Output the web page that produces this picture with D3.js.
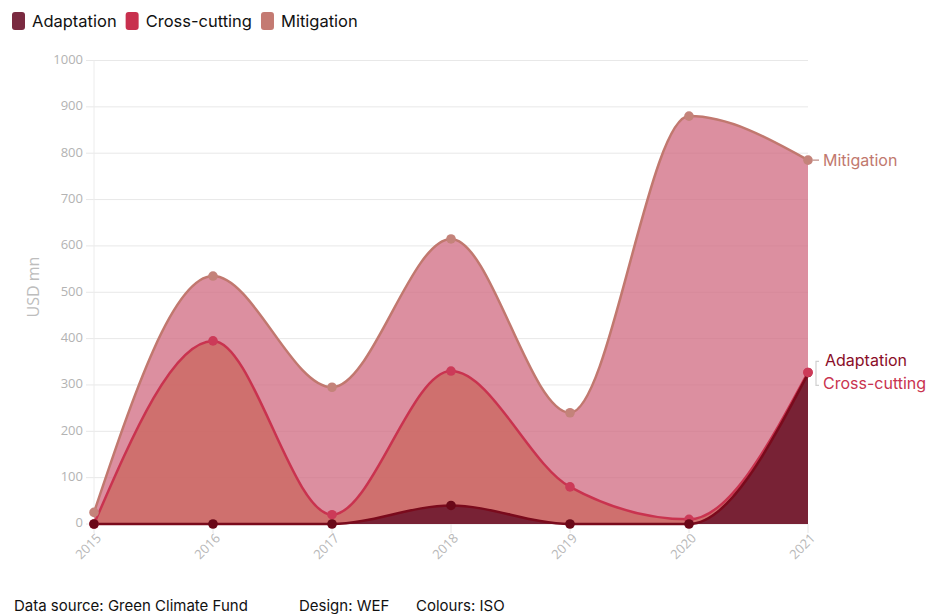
<!DOCTYPE html>
<html>
<head>
<meta charset="utf-8">
<script src="https://cdn.jsdelivr.net/npm/d3@7"></script>
<style>
  html, body { margin: 0; padding: 0; background: #fff; }
  svg { display: block; font-family: Inter, "Noto Sans", sans-serif; }
</style>
</head>
<body>
<div id="chart"></div>
<script>
// Daten
const years = [2015, 2016, 2017, 2018, 2019, 2020, 2021];
const adaptation = [0, 0, 0, 40, 0, 0, 324];
const crossCutting = [0, 395, 20, 330, 80, 10, 327];
const mitigation = [25, 535, 295, 615, 240, 880, 785];
const yTickValues = [0, 100, 200, 300, 400, 500, 600, 700, 800, 900, 1000];
const seriesNames = ['Adaptation', 'Cross-cutting', 'Mitigation'];

const W = 929, H = 614;
const margin = { top: 60.5, right: 121, bottom: 90, left: 94 };

const svg = d3.select('#chart').append('svg')
  .attr('width', W).attr('height', H);

const x = d3.scalePoint().domain(years).range([margin.left, W - margin.right]);
const y = d3.scaleLinear().domain([0, 1000]).range([H - margin.bottom, margin.top]);

// Farben
const style = {
  'Mitigation':    { fill: '#d06a80', line: '#c1786f', dot: '#c4837a', label: '#c1786e' },
  'Cross-cutting': { fill: '#cb665d', line: '#c9334f', dot: '#cc3a58', label: '#c9334f' },
  'Adaptation':    { fill: '#5b0823', line: '#7a0a1c', dot: '#6a0818', label: '#8a0d28' },
};
const legendColor = { 'Adaptation': '#7a2a40', 'Cross-cutting': '#c8304e', 'Mitigation': '#c47a72' };

// ---- Grid ----
svg.append('g').attr('class', 'grid-y')
  .selectAll('line').data(yTickValues).join('line')
  .attr('x1', margin.left - 8).attr('x2', W - margin.right)
  .attr('y1', d => y(d)).attr('y2', d => y(d))
  .attr('stroke', '#e8e8e8').attr('stroke-width', 1);

svg.append('line')
  .attr('x1', margin.left).attr('x2', margin.left)
  .attr('y1', margin.top).attr('y2', y(0))
  .attr('stroke', '#ececec');

// x tick marks
svg.append('g').selectAll('line').data(years).join('line')
  .attr('x1', d => x(d)).attr('x2', d => x(d))
  .attr('y1', y(0)).attr('y2', y(0) + 9)
  .attr('stroke', '#e6e6e6');

// ---- Y-Achse Labels ----
svg.append('g').selectAll('text').data(yTickValues).join('text')
  .attr('x', margin.left - 11).attr('y', d => y(d))
  .attr('text-anchor', 'end').attr('dominant-baseline', 'middle')
  .attr('font-family', '"Open Sans", sans-serif')
  .attr('font-size', 13).attr('fill', '#b3b3b3')
  .text(d => d);

svg.append('text')
  .attr('transform', `translate(39, 287) rotate(-90)`)
  .attr('text-anchor', 'middle')
  .attr('font-family', '"Open Sans", sans-serif')
  .attr('font-size', 16).attr('fill', '#bdbdbd')
  .text('USD mn');

// ---- X-Achse Labels (gedreht) ----
svg.append('g').selectAll('text').data(years).join('text')
  .attr('transform', d => `translate(${x(d) + 8}, ${y(0) + 15}) rotate(-45)`)
  .attr('text-anchor', 'end')
  .attr('font-family', '"Open Sans", sans-serif')
  .attr('font-size', 13).attr('fill', '#b8b8b8')
  .text(d => d);

// ---- Flächen ----
const data = {
  'Mitigation': mitigation,
  'Cross-cutting': crossCutting,
  'Adaptation': adaptation,
};
const drawOrder = ['Mitigation', 'Cross-cutting', 'Adaptation'];

const area = d3.area()
  .x((d, i) => x(years[i]))
  .y0(y(0))
  .y1(d => y(d))
  .curve(d3.curveMonotoneX);
const line = d3.line()
  .x((d, i) => x(years[i]))
  .y(d => y(d))
  .curve(d3.curveMonotoneX);

const gSeries = svg.append('g').attr('class', 'series');
drawOrder.forEach(name => {
  gSeries.append('path')
    .attr('d', area(data[name]))
    .attr('fill', style[name].fill)
    .attr('fill-opacity', 0.75);
});
drawOrder.forEach(name => {
  gSeries.append('path')
    .attr('d', line(data[name]))
    .attr('fill', 'none')
    .attr('stroke', style[name].line)
    .attr('stroke-width', 2.5);
});
// Punkte: Adaptation zuerst, Rest darüber; bei Wert 0 liegt Adaptation oben
const dotOrder = ['Mitigation', 'Cross-cutting', 'Adaptation'];
dotOrder.forEach(name => {
  gSeries.append('g').selectAll('circle').data(data[name]).join('circle')
    .attr('cx', (d, i) => x(years[i]))
    .attr('cy', d => y(d))
    .attr('r', d => (name === 'Adaptation' && d > 100) ? 3.5 : 4.8)
    .attr('fill', style[name].dot);
});
// letzter Cross-cutting-Punkt liegt sichtbar oben
gSeries.append('circle')
  .attr('cx', x(years[years.length - 1]))
  .attr('cy', y(crossCutting[crossCutting.length - 1]))
  .attr('r', 4.8)
  .attr('fill', style['Cross-cutting'].dot);

// ---- Endlabels rechts ----
const lastX = x(years[years.length - 1]);
const yMit = y(mitigation[mitigation.length - 1]);
svg.append('line')
  .attr('x1', lastX + 4).attr('x2', lastX + 11)
  .attr('y1', yMit).attr('y2', yMit)
  .attr('stroke', '#c9a09a').attr('stroke-width', 1.5);
svg.append('text')
  .attr('x', lastX + 15).attr('y', yMit + 1)
  .attr('dominant-baseline', 'middle')
  .attr('font-size', 16).attr('fill', style['Mitigation'].label)
  .text('Mitigation');

const yPair = y(crossCutting[crossCutting.length - 1]);
svg.append('path')
  .attr('d', `M${lastX + 11},${yPair - 11} H${lastX + 8} V${yPair + 13} H${lastX + 11}`)
  .attr('fill', 'none').attr('stroke', '#d0d0d0').attr('stroke-width', 1.2);
svg.append('text')
  .attr('x', lastX + 17).attr('y', yPair - 11)
  .attr('dominant-baseline', 'middle')
  .attr('font-size', 16).attr('fill', style['Adaptation'].label)
  .text('Adaptation');
svg.append('text')
  .attr('x', lastX + 15).attr('y', yPair + 12)
  .attr('dominant-baseline', 'middle')
  .attr('font-size', 16).attr('fill', style['Cross-cutting'].label)
  .text('Cross-cutting');

// ---- Legende ----
const legend = svg.append('g').attr('class', 'legend');
let lx = 12;
seriesNames.forEach(name => {
  legend.append('rect')
    .attr('x', lx).attr('y', 12).attr('width', 13).attr('height', 18)
    .attr('rx', 3).attr('fill', legendColor[name]);
  const t = legend.append('text')
    .attr('x', lx + 20).attr('y', 27)
    .attr('font-size', 16.5).attr('fill', '#111')
    .text(name);
  lx += 20 + t.node().getComputedTextLength() + 9;
});

// ---- Fußzeile ----
const footer = [
  { text: 'Data source: Green Climate Fund', x: 14 },
  { text: 'Design: WEF', x: 299 },
  { text: 'Colours: ISO', x: 416 },
];
svg.append('g').selectAll('text').data(footer).join('text')
  .attr('x', d => d.x).attr('y', 611)
  .attr('font-size', 15).attr('fill', '#111')
  .text(d => d.text);
</script>
</body>
</html>
